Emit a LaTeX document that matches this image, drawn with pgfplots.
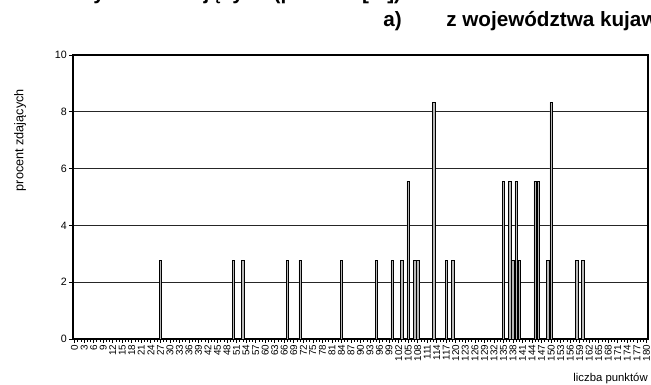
\documentclass[border=0pt]{standalone}
\usepackage{fontspec}
\setmainfont{Liberation Sans}
\usepackage{pgfplots}
\pgfplotsset{compat=1.18}

\begin{document}
\begin{tikzpicture}
% page = 651 x 385 px, 1 px = 0.75pt
\useasboundingbox (0,0) rectangle (488.25pt,288.75pt);

\begin{axis}[
  at={(54.75pt,34.5pt)}, anchor=south west,
  scale only axis, width=431.25pt, height=213pt,
  xmin=-0.5, xmax=180.5, ymin=0, ymax=10,
  ybar, bar width=0.8,
  xtick={0,3,...,180}, minor x tick num=2,
  ytick={0,2,...,10},
  xtick pos=left, ytick pos=left,
  tick align=outside,
  major tick length=3pt, minor tick length=2pt,
  tick style={black, line width=0.5pt},
  ymajorgrids, grid style={black!85, line width=0.6pt},
  axis line style={black, line width=0.9pt},
  /pgf/number format/assume math mode=true,
  /pgf/number format/1000 sep={},
  xticklabel style={rotate=90, anchor=east, inner sep=1pt,
    font=\fontsize{7.4}{8}\selectfont},
  yticklabel style={inner sep=1.5pt, font=\fontsize{8}{9}\selectfont},
  ylabel={procent zdających},
  every axis y label/.style={at={(rel axis cs:-0.0922,0.70)}, rotate=90,
    anchor=center, font=\fontsize{9.5}{10}\selectfont},
  xlabel={liczba punktów},
  every axis x label/.style={at={(rel axis cs:1,0)}, anchor=east,
    yshift=-29.5pt, inner sep=0pt, font=\fontsize{8.5}{9}\selectfont},
]
\addplot[draw=black, line width=0.4pt, fill=black!28] coordinates {
  (27,2.78) (50,2.78) (53,2.78) (67,2.78) (71,2.78) (84,2.78)
  (95,2.78) (100,2.78) (103,2.78) (105,5.56) (107,2.78) (108,2.78)
  (113,8.33) (117,2.78) (119,2.78)
  (135,5.56) (137,5.56) (138,2.78) (139,5.56) (140,2.78)
  (145,5.56) (146,5.56) (149,2.78) (150,8.33)
  (158,2.78) (160,2.78)
};
\end{axis}

% titles (partly outside the page, as in the reference)
\node[anchor=base west, inner sep=0pt, font=\fontsize{15.5}{16}\selectfont\bfseries]
  at (-6pt,289pt) {Rozkład wyników zdających (procent [\%])};
\node[anchor=base west, inner sep=0pt, font=\fontsize{15.5}{16}\selectfont\bfseries]
  at (287.25pt,268.5pt) {a)};
\node[anchor=base west, inner sep=0pt, font=\fontsize{15.5}{16}\selectfont\bfseries]
  at (334.5pt,268.5pt) {z województwa kujawsko-pomorskiego};
\end{tikzpicture}
\end{document}
